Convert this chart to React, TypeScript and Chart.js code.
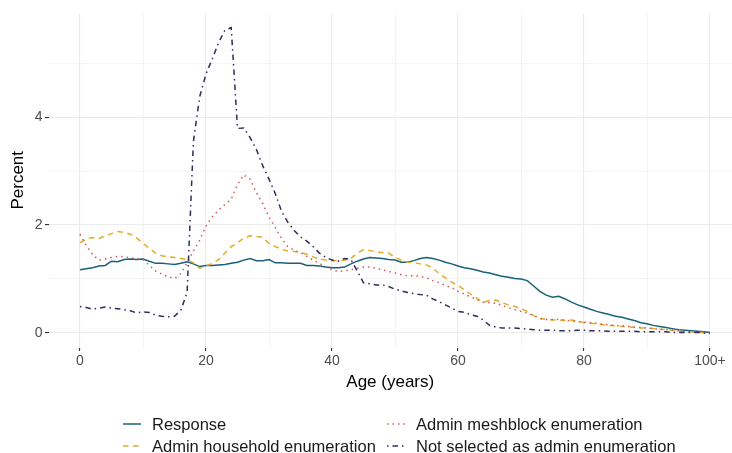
import { useEffect, useRef } from 'react';
import { Chart, registerables } from 'chart.js';

Chart.register(...registerables);

const ages = [
  0, 1, 2, 3, 4, 5, 6, 7, 8, 9, 10, 11, 12, 13, 14, 15, 16, 17, 18, 19,
  20, 21, 22, 23, 24, 25, 26, 27, 28, 29, 30, 31, 32, 33, 34, 35, 36, 37, 38, 39,
  40, 41, 42, 43, 44, 45, 46, 47, 48, 49, 50, 51, 52, 53, 54, 55, 56, 57, 58, 59,
  60, 61, 62, 63, 64, 65, 66, 67, 68, 69, 70, 71, 72, 73, 74, 75, 76, 77, 78, 79,
  80, 81, 82, 83, 84, 85, 86, 87, 88, 89, 90, 91, 92, 93, 94, 95, 96, 97, 98, 99, 100,
];

const response = [
  1.17, 1.19, 1.21, 1.24, 1.25, 1.33, 1.32, 1.36, 1.37, 1.36,
  1.37, 1.33, 1.29, 1.29, 1.28, 1.27, 1.29, 1.32, 1.28, 1.23,
  1.25, 1.25, 1.26, 1.27, 1.29, 1.31, 1.35, 1.38, 1.34, 1.34,
  1.36, 1.30, 1.30, 1.29, 1.29, 1.29, 1.25, 1.25, 1.24, 1.22,
  1.21, 1.21, 1.22, 1.28, 1.33, 1.37, 1.40, 1.39, 1.38, 1.36,
  1.35, 1.31, 1.31, 1.34, 1.38, 1.40, 1.38, 1.35, 1.31, 1.28,
  1.24, 1.21, 1.19, 1.16, 1.13, 1.11, 1.08, 1.05, 1.03, 1.01,
  1.00, 0.97, 0.87, 0.77, 0.70, 0.66, 0.68, 0.63, 0.57, 0.52,
  0.48, 0.44, 0.40, 0.37, 0.34, 0.31, 0.29, 0.26, 0.23, 0.19,
  0.17, 0.14, 0.12, 0.10, 0.08, 0.06, 0.05, 0.04, 0.03, 0.02,
  0.01,
];

const household = [
  1.67, 1.74, 1.77, 1.75, 1.80, 1.84, 1.88, 1.86, 1.83, 1.76,
  1.66, 1.57, 1.48, 1.43, 1.41, 1.40, 1.38, 1.36, 1.30, 1.20,
  1.24, 1.29, 1.36, 1.48, 1.60, 1.67, 1.76, 1.80, 1.79, 1.77,
  1.66, 1.60, 1.55, 1.52, 1.51, 1.49, 1.46, 1.41, 1.37, 1.35,
  1.34, 1.34, 1.35, 1.38, 1.48, 1.54, 1.53, 1.50, 1.49, 1.48,
  1.40, 1.35, 1.31, 1.30, 1.28, 1.26, 1.20, 1.10, 1.02, 0.94,
  0.88, 0.80, 0.72, 0.64, 0.57, 0.60, 0.61, 0.56, 0.52, 0.49,
  0.45, 0.40, 0.32, 0.27, 0.25, 0.24, 0.24, 0.23, 0.24, 0.22,
  0.19, 0.18, 0.17, 0.15, 0.14, 0.13, 0.12, 0.11, 0.10, 0.09,
  0.09, 0.08, 0.07, 0.06, 0.05, 0.03, 0.02, 0.02, 0.01, 0.01,
  0.00,
];

const meshblock = [
  1.83, 1.62, 1.45, 1.35, 1.37, 1.40, 1.42, 1.41, 1.39, 1.38,
  1.36, 1.25, 1.15, 1.09, 1.04, 1.01, 1.10, 1.30, 1.52, 1.72,
  1.98, 2.15, 2.28, 2.38, 2.48, 2.75, 2.93, 2.85, 2.60, 2.40,
  2.15, 1.95, 1.75, 1.60, 1.53, 1.49, 1.42, 1.35, 1.29, 1.22,
  1.17, 1.14, 1.15, 1.17, 1.20, 1.22, 1.22, 1.20, 1.17, 1.14,
  1.11, 1.08, 1.06, 1.06, 1.05, 1.02, 0.97, 0.93, 0.88, 0.84,
  0.77, 0.72, 0.67, 0.62, 0.57, 0.56, 0.55, 0.51, 0.47, 0.43,
  0.40, 0.37, 0.32, 0.27, 0.25, 0.25, 0.25, 0.24, 0.22, 0.21,
  0.20, 0.19, 0.18, 0.16, 0.15, 0.14, 0.13, 0.12, 0.11, 0.10,
  0.09, 0.08, 0.07, 0.06, 0.05, 0.04, 0.03, 0.02, 0.02, 0.01,
  0.00,
];

const notSelected = [
  0.49, 0.47, 0.44, 0.46, 0.48, 0.46, 0.45, 0.43, 0.41, 0.37,
  0.39, 0.38, 0.33, 0.31, 0.30, 0.31, 0.42, 0.75, 3.55, 4.38,
  4.80, 5.08, 5.38, 5.61, 5.66, 3.79, 3.80, 3.62, 3.40, 3.10,
  2.85, 2.58, 2.25, 2.05, 1.90, 1.78, 1.70, 1.60, 1.48, 1.40,
  1.35, 1.33, 1.38, 1.36, 1.15, 0.93, 0.91, 0.89, 0.89, 0.86,
  0.81, 0.78, 0.75, 0.73, 0.71, 0.70, 0.63, 0.58, 0.52, 0.46,
  0.40, 0.38, 0.34, 0.31, 0.24, 0.14, 0.11, 0.09, 0.09, 0.09,
  0.08, 0.07, 0.06, 0.05, 0.05, 0.05, 0.04, 0.04, 0.04, 0.05,
  0.05, 0.04, 0.04, 0.04, 0.03, 0.03, 0.03, 0.03, 0.03, 0.02,
  0.02, 0.02, 0.02, 0.02, 0.01, 0.01, 0.01, 0.01, 0.01, 0.00,
  0.00,
];

const seriesNames = [
  'Response',
  'Admin household enumeration',
  'Admin meshblock enumeration',
  'Not selected as admin enumeration',
];
const seriesValues = [response, household, meshblock, notSelected];
const seriesColors = ['#19607A', '#E2AC25', '#D3585E', '#2C2E5C'];
const seriesDashes: number[][] = [[], [5.5, 4.5], [1.5, 4], [1.5, 4, 5.5, 4]];

const xMajorTicks = [0, 20, 40, 60, 80, 100];
const xTickLabels = ['0', '20', '40', '60', '80', '100+'];
const xMinorTicks = [10, 30, 50, 70, 90];
const yMajorTicks = [0, 2, 4];
const yTickLabels = ['0', '2', '4'];
const yMinorTicks = [1, 3, 5];

const FONT = "'Liberation Sans', Arial, Helvetica, sans-serif";

const legendPlugin = {
  id: 'ggLegend',
  afterDraw(chart: any) {
    const ctx = chart.ctx as CanvasRenderingContext2D;
    const colX = [123, 387];
    const rowY = [424, 446];
    chart.data.datasets.forEach((ds: any, i: number) => {
      const col = i < 2 ? 0 : 1;
      const row = i % 2;
      const x = colX[col];
      const y = rowY[row];
      ctx.save();
      ctx.strokeStyle = ds.borderColor;
      ctx.lineWidth = 1.5;
      ctx.setLineDash(ds.borderDash || []);
      ctx.beginPath();
      ctx.moveTo(x, y);
      ctx.lineTo(x + 18, y);
      ctx.stroke();
      ctx.setLineDash([]);
      ctx.fillStyle = '#1A1A1A';
      ctx.font = `16.5px ${FONT}`;
      ctx.textBaseline = 'middle';
      ctx.textAlign = 'left';
      ctx.fillText(ds.label, x + 29, y + 1);
      ctx.restore();
    });
  },
};

export default function App() {
  const ref = useRef<HTMLCanvasElement>(null);

  useEffect(() => {
    if (!ref.current) return;
    const datasets = seriesNames.map((name, i) => ({
      label: name,
      data: ages.map((a, j) => ({ x: a, y: seriesValues[i][j] })),
      borderColor: seriesColors[i],
      backgroundColor: seriesColors[i],
      borderWidth: 1.5,
      borderDash: seriesDashes[i],
      pointRadius: 0,
      tension: 0,
      fill: false,
      order: 4 - i,
    }));

    const xAll = [...xMajorTicks, ...xMinorTicks].sort((a, b) => a - b);
    const yAll = [...yMajorTicks, ...yMinorTicks].sort((a, b) => a - b);

    const chart = new Chart(ref.current, {
      type: 'line',
      data: { datasets },
      plugins: [legendPlugin],
      options: {
        animation: false,
        responsive: false,
        events: [],
        layout: { padding: { top: 13, right: 0, bottom: 60.5, left: 0 } },
        plugins: { legend: { display: false }, tooltip: { enabled: false } },
        scales: {
          x: {
            type: 'linear',
            min: -5,
            max: 103.49,
            afterBuildTicks: (s: any) => {
              s.ticks = xAll.map((v) => ({ value: v }));
            },
            afterFit: (s: any) => {
              s.height = 45;
            },
            ticks: {
              autoSkip: false,
              maxRotation: 0,
              padding: 2,
              color: '#4D4D4D',
              font: { family: FONT, size: 14 },
              callback: (v: any) => {
                const idx = xMajorTicks.indexOf(Number(v));
                return idx >= 0 ? xTickLabels[idx] : '';
              },
            },
            grid: {
              color: '#EBEBEB',
              lineWidth: (c: any) => (xMajorTicks.includes(c.tick?.value) ? 1.1 : 0.55),
              tickColor: (c: any) => (xMajorTicks.includes(c.tick?.value) ? '#333333' : 'rgba(0,0,0,0)'),
              tickLength: 3.5,
              drawTicks: true,
            },
            border: { display: false },
            title: {
              display: true,
              text: 'Age (years)',
              color: '#000000',
              font: { family: FONT, size: 17 },
              padding: { top: 0, bottom: 0 },
            },
          },
          y: {
            type: 'linear',
            min: -0.27,
            max: 5.93,
            afterBuildTicks: (s: any) => {
              s.ticks = yAll.map((v) => ({ value: v }));
            },
            afterFit: (s: any) => {
              s.width = 48.5;
            },
            ticks: {
              autoSkip: false,
              padding: 2.5,
              color: '#4D4D4D',
              font: { family: FONT, size: 14 },
              callback: (v: any) => {
                const idx = yMajorTicks.indexOf(Number(v));
                return idx >= 0 ? yTickLabels[idx] : '';
              },
            },
            grid: {
              color: '#EBEBEB',
              lineWidth: (c: any) => (yMajorTicks.includes(c.tick?.value) ? 1.1 : 0.55),
              tickColor: (c: any) => (yMajorTicks.includes(c.tick?.value) ? '#333333' : 'rgba(0,0,0,0)'),
              tickLength: 3.5,
              drawTicks: true,
            },
            border: { display: false },
            title: {
              display: true,
              text: 'Percent',
              color: '#000000',
              font: { family: FONT, size: 17 },
              padding: { top: 8, bottom: 0 },
            },
          },
        },
      },
    } as any);

    return () => chart.destroy();
  }, []);

  return (
    <div style={{ position: 'absolute', left: 0, top: 0, width: 732, height: 453, background: '#FFFFFF' }}>
      <canvas ref={ref} width={732} height={453} style={{ width: 732, height: 453, display: 'block' }} />
    </div>
  );
}
